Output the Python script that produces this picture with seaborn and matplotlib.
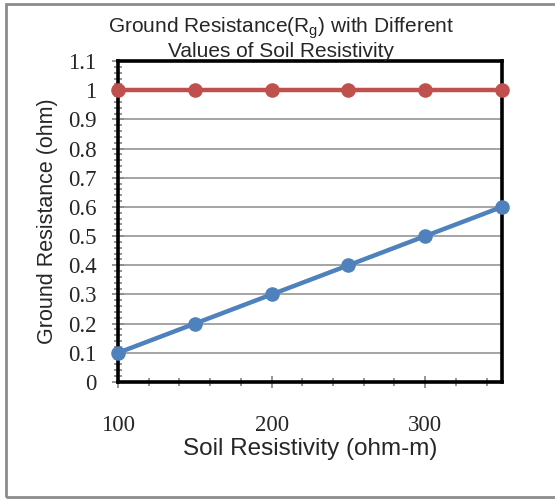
import matplotlib
matplotlib.use("Agg")
import matplotlib.pyplot as plt
import seaborn as sns
import pandas as pd
import numpy as np
from matplotlib.patches import Rectangle
from matplotlib.ticker import MultipleLocator

soil_resistivity = [100, 150, 200, 250, 300, 350]
rg_values = [0.1, 0.2, 0.3, 0.4, 0.5, 0.6]
ref_values = [1, 1, 1, 1, 1, 1]
y_ticks = [0, 0.1, 0.2, 0.3, 0.4, 0.5, 0.6, 0.7, 0.8, 0.9, 1, 1.1]
y_tick_labels = ["0", "0.1", "0.2", "0.3", "0.4", "0.5", "0.6", "0.7", "0.8", "0.9", "1", "1.1"]
x_ticks = [100, 200, 300]

df = pd.DataFrame({
    "x": soil_resistivity * 2,
    "y": rg_values + ref_values,
    "series": ["Rg"] * 6 + ["Ref"] * 6,
})

sns.set_style("white")
plt.rcParams['font.family'] = ['Liberation Sans', 'DejaVu Sans']

fig = plt.figure(figsize=(5.55, 4.99), dpi=100)
ax = fig.add_axes([118/555, 1-382/499, (502-118)/555, (382-61)/499])

# figure border
fig.patches.append(Rectangle((6/555, 2/499), 1.2, 1 - 6/499, transform=fig.transFigure,
                             fill=False, edgecolor="#8c8c8c", linewidth=2, zorder=0))

ax.yaxis.grid(True, color="#8c8c8c", linewidth=1.1, zorder=0)
ax.xaxis.grid(False)

palette = {"Rg": "#4F81BD", "Ref": "#C0504D"}
sns.lineplot(data=df, x="x", y="y", hue="series", palette=palette, marker="o",
             markersize=10.5, markeredgewidth=0, linewidth=3.2, legend=False, ax=ax,
             clip_on=False, zorder=3)

ax.set_xlim(100, 350)
ax.set_ylim(0, 1.1)
ax.set_yticks(y_ticks)
ax.set_yticklabels(y_tick_labels, family="Liberation Serif", fontsize=16.5)
ax.set_xticks(x_ticks)
ax.set_xticklabels([str(v) for v in x_ticks], family="Liberation Serif", fontsize=16.5)
ax.xaxis.set_minor_locator(MultipleLocator(20))
ax.yaxis.set_minor_locator(MultipleLocator(0.02))

ax.tick_params(axis="both", which="major", direction="inout", length=9, width=1.3,
               color="#8c8c8c", left=True, bottom=True)
ax.tick_params(axis="both", which="minor", direction="inout", length=6, width=1.3,
               color="#8c8c8c", left=True, bottom=True)
ax.tick_params(axis="y", which="major", pad=11)
ax.tick_params(axis="x", which="major", pad=19)

for s in ax.spines.values():
    s.set_visible(True)
    s.set_color("black")
    s.set_linewidth(2.6)

ax.set_xlabel("Soil Resistivity (ohm-m)", fontsize=17.5, labelpad=1.5)
ax.set_ylabel("Ground Resistance (ohm)", fontsize=15.5, labelpad=7)

fig.text(281/555, 1-38/499, "Ground Resistance(R$_\\mathregular{g}$) with Different\nValues of Soil Resistivity",
         ha="center", va="center", fontsize=15, linespacing=1.05)

fig.savefig("out.png", dpi=100)
